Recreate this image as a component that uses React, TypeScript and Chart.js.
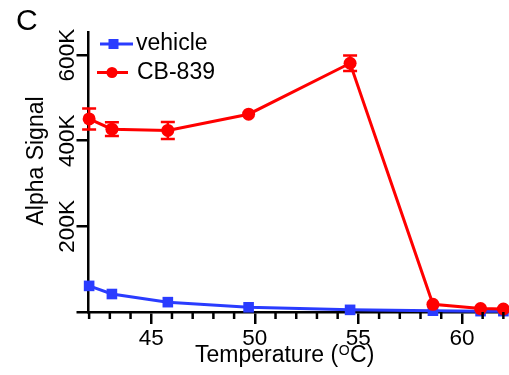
import React, { useEffect, useRef } from 'react';
import { Chart, registerables } from 'chart.js';

Chart.register(...registerables);

// ---- data ----
const temperatures = [42, 43.1, 45.8, 49.7, 54.6, 58.6, 60.9, 62];
const vehicleValues = [61000, 42000, 23000, 11000, 5000, 3000, 2000, 2000];
const cb839Values = [451000, 427000, 424000, 462000, 581000, 18000, 8000, 7000];
const cb839Errors = [24500, 16000, 20000, 0, 18000, 0, 0, 0];
const vehicleErrors = [0, 0, 0, 0, 0, 0, 0, 0];
const seriesNames = ['vehicle', 'CB-839'];
const yTickValues = [0, 200000, 400000, 600000];
const xTickValues = [42, 43, 44, 45, 46, 47, 48, 49, 50, 51, 52, 53, 54, 55, 56, 57, 58, 59, 60, 61, 62];
const xLabelValues = [45, 50, 55, 60];
const panelLabel = 'C';
const yTitle = 'Alpha Signal';
const xTitleParts = ['Temperature (', 'O', 'C)'];

const RED = '#ff0000';
const BLUE = '#2a3cff';
const FONT = '"Liberation Sans", Arial, Helvetica, sans-serif';

export default function App() {
  const ref = useRef<HTMLCanvasElement | null>(null);

  useEffect(() => {
    if (!ref.current) return;

    const decor = {
      id: 'decor',
      afterDatasetsDraw(chart: any) {
        const ctx = chart.ctx;
        const y = chart.scales.y;
        const errs = [cb839Errors, vehicleErrors];
        const vals = [cb839Values, vehicleValues];
        const cols = [RED, BLUE];
        ctx.save();
        for (let d = 0; d < 2; d++) {
          const meta = chart.getDatasetMeta(d);
          ctx.strokeStyle = cols[d];
          ctx.lineWidth = 2.5;
          meta.data.forEach((pt: any, j: number) => {
            const e = errs[d][j];
            if (!e) return;
            const top = y.getPixelForValue(vals[d][j] + e);
            const bot = y.getPixelForValue(vals[d][j] - e);
            ctx.beginPath();
            ctx.moveTo(pt.x, top);
            ctx.lineTo(pt.x, bot);
            ctx.moveTo(pt.x - 7, top);
            ctx.lineTo(pt.x + 7, top);
            ctx.moveTo(pt.x - 7, bot);
            ctx.lineTo(pt.x + 7, bot);
            ctx.stroke();
          });
        }
        ctx.restore();
      },
      afterDraw(chart: any) {
        const ctx = chart.ctx;
        const xs = chart.scales.x;
        const area = chart.chartArea;
        ctx.save();
        // minor x ticks
        ctx.strokeStyle = '#000';
        ctx.lineWidth = 2.5;
        xTickValues.forEach((v) => {
          if (xLabelValues.includes(v)) return;
          const px = xs.getPixelForValue(v);
          ctx.beginPath();
          ctx.moveTo(px, area.bottom);
          ctx.lineTo(px, area.bottom + 7);
          ctx.stroke();
        });
        // panel label
        ctx.fillStyle = '#000';
        ctx.font = `30px ${FONT}`;
        ctx.textAlign = 'left';
        ctx.textBaseline = 'alphabetic';
        ctx.fillText(panelLabel, 16, 30);
        // y title
        ctx.save();
        ctx.font = `23px ${FONT}`;
        ctx.translate(43, 161);
        ctx.rotate(-Math.PI / 2);
        ctx.textAlign = 'center';
        ctx.fillText(yTitle, 0, 0);
        ctx.restore();
        // x title with superscript
        ctx.font = `23px ${FONT}`;
        let tx = 195;
        ctx.fillText(xTitleParts[0], tx, 362);
        tx += ctx.measureText(xTitleParts[0]).width;
        ctx.font = `14px ${FONT}`;
        ctx.fillText(xTitleParts[1], tx + 0.5, 355);
        tx += ctx.measureText(xTitleParts[1]).width + 1;
        ctx.font = `23px ${FONT}`;
        ctx.fillText(xTitleParts[2], tx, 362);
        // legend
        ctx.textBaseline = 'middle';
        ctx.lineWidth = 3;
        ctx.strokeStyle = BLUE;
        ctx.beginPath();
        ctx.moveTo(100, 44);
        ctx.lineTo(133, 44);
        ctx.stroke();
        ctx.fillStyle = BLUE;
        ctx.fillRect(113.5 - 5, 44 - 5, 10, 10);
        ctx.fillStyle = '#000';
        ctx.fillText(seriesNames[0], 136, 44);
        ctx.strokeStyle = RED;
        ctx.beginPath();
        ctx.moveTo(97, 72.5);
        ctx.lineTo(128, 72.5);
        ctx.stroke();
        ctx.fillStyle = RED;
        ctx.beginPath();
        ctx.arc(112, 72.5, 5.5, 0, Math.PI * 2);
        ctx.fill();
        ctx.fillStyle = '#000';
        ctx.fillText(seriesNames[1], 137, 73);
        ctx.restore();
      },
    };

    const chart = new Chart(ref.current, {
      type: 'line',
      data: {
        datasets: [
          {
            label: seriesNames[1],
            data: temperatures.map((t, i) => ({ x: t, y: cb839Values[i] })),
            borderColor: RED,
            backgroundColor: RED,
            borderWidth: 3,
            pointStyle: 'circle',
            pointRadius: 6.5,
            pointBorderWidth: 0,
            clip: false as any,
          },
          {
            label: seriesNames[0],
            data: temperatures.map((t, i) => ({ x: t, y: vehicleValues[i] })),
            borderColor: BLUE,
            backgroundColor: BLUE,
            borderWidth: 3,
            pointStyle: 'rect',
            pointRadius: 7.5,
            pointBorderWidth: 0,
            clip: false as any,
          },
        ],
      },
      options: {
        animation: false,
        responsive: true,
        maintainAspectRatio: false,
        layout: { autoPadding: false, padding: { left: 0, top: 32, right: 1.5, bottom: 0 } },
        plugins: { legend: { display: false }, tooltip: { enabled: false } },
        scales: {
          x: {
            type: 'linear',
            min: 41.97,
            max: 62.2,
            afterBuildTicks: (s: any) => {
              s.ticks = xTickValues.map((v) => ({ value: v }));
            },
            afterFit: (s: any) => {
              s.height = 63;
            },
            border: { display: true, color: '#000', width: 2.5 },
            grid: {
              display: true,
              drawOnChartArea: false,
              drawTicks: true,
              tickLength: 12,
              lineWidth: 2.5,
              tickWidth: 2.5,
              tickColor: (c: any) => (c.tick && xLabelValues.includes(c.tick.value) ? '#000' : 'rgba(0,0,0,0)'),
            },
            ticks: {
              autoSkip: false,
              maxRotation: 0,
              minRotation: 0,
              padding: 1,
              color: '#000',
              font: { family: FONT, size: 22.5 },
              callback: (v: any) => (xLabelValues.includes(Number(v)) ? String(v) : ''),
            },
          },
          y: {
            type: 'linear',
            min: 0,
            max: 654000,
            afterBuildTicks: (s: any) => {
              s.ticks = yTickValues.map((v) => ({ value: v }));
            },
            afterFit: (s: any) => {
              s.width = 88.5;
            },
            border: { display: true, color: '#000', width: 2.5 },
            grid: {
              display: true,
              drawOnChartArea: false,
              drawTicks: true,
              tickLength: 12,
              lineWidth: 2.5,
              tickWidth: 2.5,
              tickColor: '#000',
            },
            ticks: {
              autoSkip: false,
              minRotation: 90,
              maxRotation: 90,
              crossAlign: 'center',
              padding: -18,
              color: '#000',
              font: { family: FONT, size: 22.5 },
              callback: (v: any) => (Number(v) === 0 ? '' : `${Number(v) / 1000}K`),
            },
          },
        },
      },
      plugins: [decor],
    });

    return () => chart.destroy();
  }, []);

  return (
    <div style={{ position: 'absolute', left: 0, top: 0, width: 509, height: 375, background: '#fff' }}>
      <canvas ref={ref} />
    </div>
  );
}
